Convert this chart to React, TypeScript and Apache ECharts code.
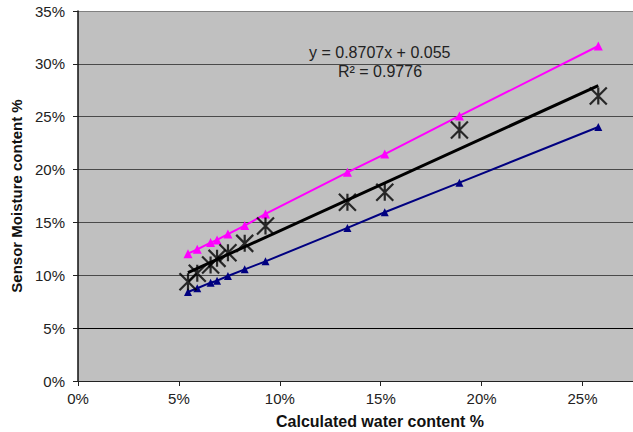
import React, { useEffect, useRef } from "react";
import * as echarts from "echarts";

const waterContent = [0.0545, 0.0591, 0.0657, 0.0689, 0.0743, 0.0826, 0.0929, 0.1335, 0.152, 0.189, 0.2578];
const upperSensor = [0.1204, 0.1246, 0.1309, 0.1334, 0.139, 0.147, 0.158, 0.1974, 0.2147, 0.2507, 0.3169];
const lowerSensor = [0.0842, 0.0877, 0.093, 0.0949, 0.0993, 0.1056, 0.1132, 0.1448, 0.1596, 0.1876, 0.2403];
const measuredSensor = [0.0939, 0.1019, 0.1097, 0.116, 0.1214, 0.1302, 0.1466, 0.1691, 0.1785, 0.2374, 0.2696];
const trendSlope = 0.8707;
const trendIntercept = 0.055;
const trendLabel = "y = 0.8707x + 0.055";
const r2Label = "R\u00b2 = 0.9776";
const xTitle = "Calculated water content %";
const yTitle = "Sensor Moisture content %";

const FONT = "'Liberation Sans', Arial, sans-serif";

export default function App() {
  const ref = useRef<HTMLDivElement>(null);
  useEffect(() => {
    if (!ref.current) return;
    const chart = echarts.init(ref.current, null, { renderer: "svg" });
    const xMin = Math.min(...waterContent);
    const xMax = Math.max(...waterContent);
    const trend = [xMin, xMax].map((x) => [x, trendSlope * x + trendIntercept]);
    const pct = (v: number) => {
      const p = Math.round(v * 1000) / 10;
      return Math.abs(p % 5) < 0.01 ? `${Math.round(p)}%` : "";
    };
    chart.setOption({
      animation: false,
      backgroundColor: "#ffffff",
      textStyle: { fontFamily: FONT },
      grid: {
        left: 78,
        top: 11,
        right: 0,
        bottom: 51,
        show: true,
        backgroundColor: "#c0c0c0",
        borderWidth: 0,
      },
      xAxis: {
        type: "value",
        min: 0,
        max: 0.275,
        interval: 0.05,
        axisLine: { show: true, lineStyle: { color: "#222", width: 1 } },
        axisTick: { show: true, length: 5, lineStyle: { color: "#222" } },
        axisLabel: { formatter: pct, fontFamily: FONT, fontSize: 15, color: "#222", margin: 10, showMaxLabel: false },
        splitLine: { show: false },
      },
      yAxis: {
        type: "value",
        min: 0,
        max: 0.35,
        interval: 0.05,
        name: yTitle,
        nameLocation: "middle",
        nameGap: 54,
        nameTextStyle: { fontFamily: FONT, fontSize: 15, fontWeight: "bold", color: "#111" },
        axisLine: { show: true, lineStyle: { color: "#111", width: 1.5 } },
        axisTick: { show: true, length: 5, lineStyle: { color: "#222" } },
        axisLabel: { formatter: pct, fontFamily: FONT, fontSize: 15, color: "#222", margin: 13 },
        splitLine: {
          show: true,
          lineStyle: {
            color: ["#000", "#000", "#4a4a4a", "#4a4a4a", "#4a4a4a", "#4a4a4a", "#4a4a4a", "#808080"],
            width: 1,
          },
        },
      },
      series: [
        {
          name: "upper",
          type: "line",
          data: waterContent.map((x, i) => [x, upperSensor[i]]),
          lineStyle: { color: "#ff00ff", width: 2 },
          itemStyle: { color: "#ff00ff" },
          symbol: "triangle",
          symbolSize: 9,
          z: 2,
        },
        {
          name: "lower",
          type: "line",
          data: waterContent.map((x, i) => [x, lowerSensor[i]]),
          lineStyle: { color: "#000080", width: 2 },
          itemStyle: { color: "#000080" },
          symbol: "triangle",
          symbolSize: 8,
          z: 2,
        },
        {
          name: "trend",
          type: "line",
          data: trend,
          lineStyle: { color: "#000", width: 3 },
          symbol: "none",
          z: 3,
        },
        {
          name: "measured",
          type: "scatter",
          data: waterContent.map((x, i) => [x, measuredSensor[i]]),
          symbol: "path://M0,0L16,16M16,0L0,16M8,0L8,16",
          symbolSize: 17,
          itemStyle: { color: "none", borderColor: "#000", borderWidth: 2.2 },
          z: 4,
        },
      ],
      graphic: [
        {
          type: "text",
          left: 309,
          top: 44,
          style: { text: trendLabel, fontFamily: FONT, fontSize: 16, fill: "#222" },
        },
        {
          type: "text",
          left: 338,
          top: 63,
          style: { text: r2Label, fontFamily: FONT, fontSize: 16, fill: "#222" },
        },
        {
          type: "text",
          x: 380,
          y: 421,
          style: {
            text: xTitle,
            fontFamily: FONT,
            fontSize: 16,
            fontWeight: "bold",
            fill: "#111",
            align: "center",
            verticalAlign: "middle",
          },
        },
      ],
    });
    return () => chart.dispose();
  }, []);
  return (
    <div
      ref={ref}
      style={{ position: "fixed", left: 0, top: 0, width: 633, height: 432 }}
    />
  );
}
